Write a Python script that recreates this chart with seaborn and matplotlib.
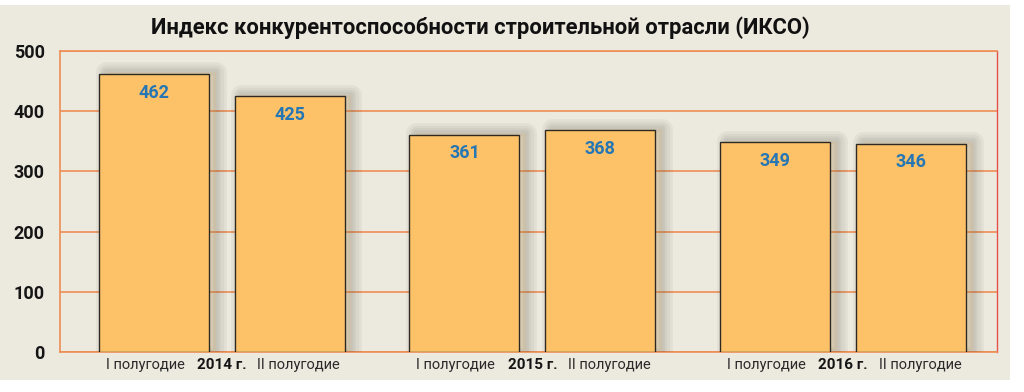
import matplotlib
matplotlib.use('Agg')
import matplotlib.pyplot as plt
import matplotlib.patheffects as pe
import matplotlib.patches as mpatches
import pandas as pd
import seaborn as sns

# data
years = ['2014 г.', '2015 г.', '2016 г.']
halves = ['I полугодие', 'II полугодие']
first_half = [462, 361, 349]
second_half = [425, 368, 346]
yticks = [0, 100, 200, 300, 400, 500]

df = pd.DataFrame({
    'year': years * 2,
    'half': [halves[0]] * 3 + [halves[1]] * 3,
    'value': first_half + second_half,
})

sns.set_style('white')
plt.rcParams['font.family'] = ['Roboto', 'DejaVu Sans']

bar_color = '#FDC268'
grid_color = '#EE8E55'
bg_color = '#ECE9DF'

fig = plt.figure(figsize=(10.24, 3.92), dpi=100, facecolor='white')
# beige panel behind the chart
fig.patches.append(mpatches.Rectangle((0, 12 / 392), 1010 / 1024, 375 / 392,
                                      transform=fig.transFigure, facecolor=bg_color,
                                      edgecolor='none', zorder=-5))
ax = fig.add_axes([60 / 1024, 40 / 392, 937 / 1024, 301 / 392])
ax.set_facecolor('none')

sns.barplot(data=df, x='year', y='value', hue='half', hue_order=halves,
            palette=[bar_color, bar_color], saturation=1, width=0.874, gap=0.19,
            edgecolor='#2e2a22', linewidth=1.0, legend=False, ax=ax, zorder=3)

# blurred shadow: stacked faint strokes of shrinking width, shifted right
shadow = [pe.Stroke(offset=(5, 1), linewidth=w, foreground='#3a362e', alpha=0.05,
                    joinstyle='round')
          for w in (15, 11, 7, 4)]
for p in ax.patches:
    p.set_path_effects(shadow + [pe.Normal()])

for c in ax.containers:
    ax.bar_label(c, padding=-20, color='#2576B4', fontsize=13, fontweight='bold')

ax.set_ylim(0, 500)
ax.set_xlim(-0.52, 2.495)
ax.set_yticks(yticks)
ax.set_yticklabels([str(t) for t in yticks], fontsize=13, fontweight='bold', color='#151515')
ax.yaxis.grid(True, color=grid_color, linewidth=1.2, zorder=1)
ax.set_axisbelow(True)
ax.tick_params(axis='y', length=0, pad=11)

# year labels on major ticks, half-year labels on minor ticks
ax.set_xticks(range(len(years)))
ax.set_xticklabels(years, fontsize=11, fontweight='bold', color='#151515')
centers = sorted(p.get_x() + p.get_width() / 2 for p in ax.patches)
# nudge the half-year labels outward, away from the year label
label_pos = [c - 0.028 if i % 2 == 0 else c + 0.03 for i, c in enumerate(centers)]
ax.set_xticks(label_pos, minor=True)
ax.set_xticklabels([halves[i % 2] for i in range(len(centers))], minor=True,
                   fontsize=10.5, color='#2a2a2a')
ax.tick_params(axis='x', which='both', length=0, pad=4)

ax.set_xlabel('')
ax.set_ylabel('')

for s in ['top', 'bottom', 'left']:
    ax.spines[s].set_color(grid_color)
    ax.spines[s].set_linewidth(1.2)
ax.spines['right'].set_color('#E8504A')
ax.spines['right'].set_linewidth(1.0)

fig.text(480 / 1024, 1 - 28 / 392, 'Индекс конкурентоспособности строительной отрасли (ИКСО)',
         ha='center', va='center', fontsize=15.8, fontweight='bold', color='#111111')

fig.savefig('out.png', dpi=100, facecolor='white')
